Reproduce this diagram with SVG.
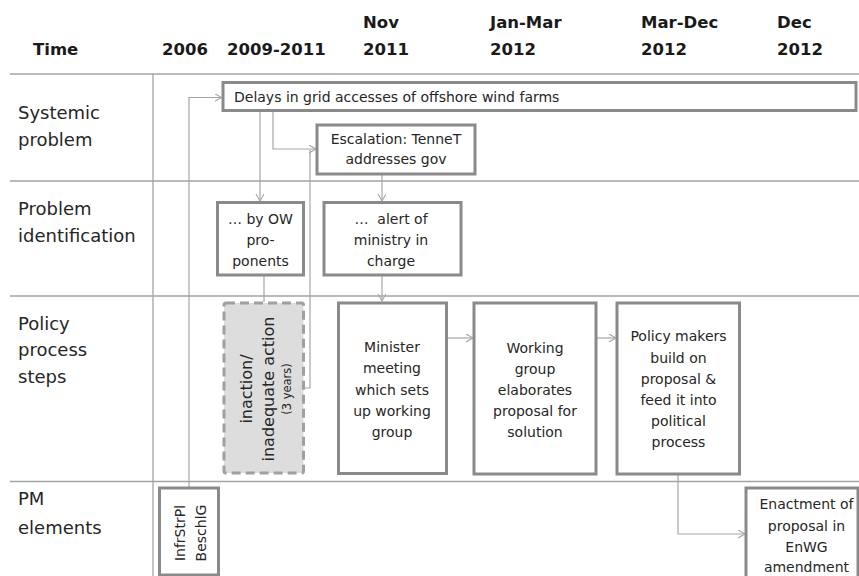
<svg xmlns="http://www.w3.org/2000/svg" width="859" height="576" viewBox="0 0 859 576">
<style>
  text { font-family: "DejaVu Sans", "Liberation Sans", sans-serif; fill: #262626; }
  .hdr { font-weight: bold; font-size: 16.5px; fill: #1a1a1a; }
  .row { font-size: 18px; }
  .t { font-size: 14px; text-anchor: middle; }
  .grid { stroke: #a3a3a3; stroke-width: 1.3; fill: none; }
  .box { fill: #ffffff; stroke: #8a8a8a; stroke-width: 3; }
  .dash { fill: #dddddd; stroke: #a0a0a0; stroke-width: 3; stroke-dasharray: 9 5; }
  .conn { stroke: #a6a6a6; stroke-width: 1.2; fill: none; }
</style>
<defs>
  <marker id="arr" markerUnits="userSpaceOnUse" markerWidth="10" markerHeight="10" refX="7" refY="4" orient="auto">
    <path d="M0,0 L7,4 L0,8" fill="none" stroke="#a6a6a6" stroke-width="1.1"/>
  </marker>
</defs>
<rect width="859" height="576" fill="#ffffff"/>

<g id="grid">
  <line class="grid" x1="10" y1="74" x2="859" y2="74"/>
  <line class="grid" x1="10" y1="181" x2="859" y2="181"/>
  <line class="grid" x1="10" y1="296" x2="859" y2="296"/>
  <line class="grid" x1="10" y1="481.5" x2="859" y2="481.5"/>
  <line class="grid" x1="153" y1="74" x2="153" y2="576"/>
</g>

<g id="header">
  <text class="hdr" x="33" y="55">Time</text>
  <text class="hdr" x="162" y="55">2006</text>
  <text class="hdr" x="227" y="55">2009-2011</text>
  <text class="hdr" x="363" y="28">Nov</text>
  <text class="hdr" x="363" y="55">2011</text>
  <text class="hdr" x="490" y="28">Jan-Mar</text>
  <text class="hdr" x="490" y="55">2012</text>
  <text class="hdr" x="641" y="28">Mar-Dec</text>
  <text class="hdr" x="641" y="55">2012</text>
  <text class="hdr" x="777" y="28">Dec</text>
  <text class="hdr" x="777" y="55">2012</text>
</g>

<g id="rowlabels">
  <text class="row" x="18" y="119">Systemic</text>
  <text class="row" x="18" y="146">problem</text>
  <text class="row" x="18" y="215">Problem</text>
  <text class="row" x="18" y="242">identification</text>
  <text class="row" x="18" y="330">Policy</text>
  <text class="row" x="18" y="356">process</text>
  <text class="row" x="18" y="383">steps</text>
  <text class="row" x="18" y="505">PM</text>
  <text class="row" x="18" y="534">elements</text>
</g>

<g id="connectors">
  <polyline class="conn" points="189,487 189,97.5 221.5,97.5" marker-end="url(#arr)"/>
  <polyline class="conn" points="260,111 260,201" marker-end="url(#arr)"/>
  <polyline class="conn" points="273,111 273,149 316,149" marker-end="url(#arr)"/>
  <polyline class="conn" points="304,388 310,388 310,150"/>
  <polyline class="conn" points="264,275 264,302"/>
  <polyline class="conn" points="382,174 382,201" marker-end="url(#arr)"/>
  <polyline class="conn" points="382,275 382,301" marker-end="url(#arr)"/>
  <polyline class="conn" points="447,338 473,338" marker-end="url(#arr)"/>
  <polyline class="conn" points="596,338 616,338" marker-end="url(#arr)"/>
  <polyline class="conn" points="678,474 678,534 745,534" marker-end="url(#arr)"/>
</g>

<g id="delays">
  <rect class="box" x="223" y="82.5" width="633" height="28"/>
  <text x="234" y="101.5" style="font-size:14px">Delays in grid accesses of offshore wind farms</text>
</g>

<g id="escalation">
  <rect class="box" x="317" y="125" width="158" height="49"/>
  <text class="t" x="396" y="144">Escalation: TenneT</text>
  <text class="t" x="396" y="164">addresses gov</text>
</g>

<g id="byow">
  <rect class="box" x="217.5" y="202.5" width="86" height="72.5"/>
  <text class="t" x="260.5" y="223.5">… by OW</text>
  <text class="t" x="260.5" y="245">pro-</text>
  <text class="t" x="260.5" y="266">ponents</text>
</g>

<g id="alert">
  <rect class="box" x="324" y="202.5" width="137" height="72.5"/>
  <text class="t" x="391" y="223.5" xml:space="preserve">…  alert of</text>
  <text class="t" x="391" y="245">ministry in</text>
  <text class="t" x="391" y="266">charge</text>
</g>

<g id="inaction">
  <rect class="dash" x="224" y="303" width="79.5" height="170" rx="2"/>
  <text class="t" transform="translate(251.5,389) rotate(-90)" style="font-size:16px">inaction/</text>
  <text class="t" transform="translate(274,389) rotate(-90)" style="font-size:16px">inadequate action</text>
  <text class="t" transform="translate(291,389) rotate(-90)" style="font-size:11.5px">(3 years)</text>
</g>

<g id="minister">
  <rect class="box" x="338.5" y="303" width="108" height="170.5"/>
  <text class="t" x="392" y="352">Minister</text>
  <text class="t" x="392" y="373">meeting</text>
  <text class="t" x="392" y="394.5">which sets</text>
  <text class="t" x="392" y="416">up working</text>
  <text class="t" x="392" y="437">group</text>
</g>

<g id="workinggroup">
  <rect class="box" x="474" y="303" width="122" height="171"/>
  <text class="t" x="535" y="352.5">Working</text>
  <text class="t" x="535" y="373.5">group</text>
  <text class="t" x="535" y="394.5">elaborates</text>
  <text class="t" x="535" y="415.5">proposal for</text>
  <text class="t" x="535" y="436.5">solution</text>
</g>

<g id="policymakers">
  <rect class="box" x="617" y="303" width="122.5" height="171"/>
  <text class="t" x="678.5" y="341">Policy makers</text>
  <text class="t" x="678.5" y="362.5">build on</text>
  <text class="t" x="678.5" y="383.5">proposal &amp;</text>
  <text class="t" x="678.5" y="405">feed it into</text>
  <text class="t" x="678.5" y="426">political</text>
  <text class="t" x="678.5" y="446.5">process</text>
</g>

<g id="infrstrpl">
  <rect class="box" x="159.5" y="488" width="59" height="87"/>
  <text class="t" transform="translate(185,533) rotate(-90)">InfrStrPl</text>
  <text class="t" transform="translate(206,533) rotate(-90)">BeschlG</text>
</g>

<g id="enactment">
  <rect class="box" x="746" y="488" width="112" height="95"/>
  <text class="t" x="806.5" y="508.5">Enactment of</text>
  <text class="t" x="806.5" y="530.5">proposal in</text>
  <text class="t" x="806.5" y="551.5">EnWG</text>
  <text class="t" x="806.5" y="572">amendment</text>
</g>
</svg>
